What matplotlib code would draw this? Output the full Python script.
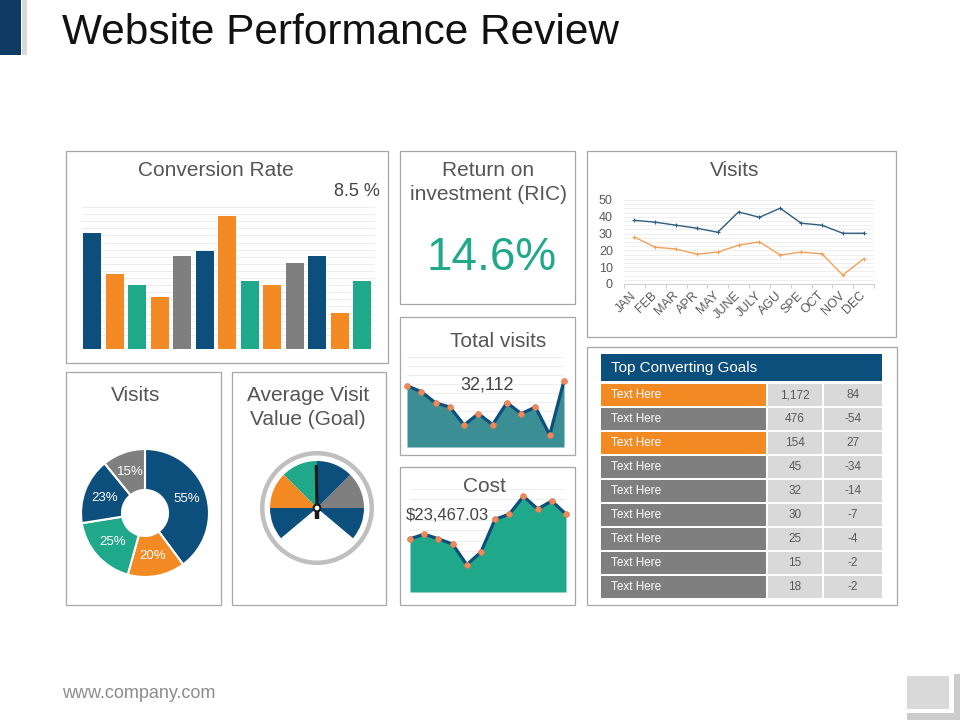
import matplotlib
matplotlib.use('Agg')
import matplotlib.pyplot as plt
from matplotlib.patches import Rectangle, Wedge, Circle
import numpy as np

plt.rcParams['font.family'] = ['Liberation Sans', 'DejaVu Sans']

# ---------------- data ----------------
conv_values = [16.3, 10.5, 9.0, 7.3, 13.1, 13.8, 18.8, 9.6, 9.0, 12.1, 13.1, 5.1, 9.6]
conv_series = ['b', 'o', 't', 'o', 'g', 'b', 'o', 't', 'o', 'g', 'b', 'o', 't']
conv_label = '8.5 %'

roi_label = '14.6%'

months = ['JAN', 'FEB', 'MAR', 'APR', 'MAY', 'JUNE', 'JULY', 'AGU', 'SPE', 'OCT', 'NOV', 'DEC']
visits_a = [37.9, 36.8, 35.0, 33.2, 30.8, 42.9, 39.7, 45.1, 36.2, 35.0, 30.2, 30.2]
visits_b = [27.9, 21.9, 20.8, 17.8, 19.0, 23.1, 25.1, 17.2, 19.0, 18.0, 5.3, 15.0]

total_visits = [6.8, 6.15, 4.9, 4.44, 2.44, 3.7, 2.48, 4.93, 3.7, 4.44, 1.33, 7.37]
total_visits_label = '32,112'

cost_values = [5.16, 5.61, 5.16, 4.65, 2.65, 3.87, 7.06, 7.55, 9.29, 8.06, 8.84, 7.55]
cost_label = '$23,467.03'

donut_values = [55, 20, 25, 23, 15]
donut_labels = ['55%', '20%', '25%', '23%', '15%']
donut_series = ['b', 'o', 't', 'b', 'g']

gauge_spans = [40, 45, 45, 45, 45, 40]
gauge_series = ['b', 'g', 'b', 't', 'o', 'b']
needle_angle = 91

goal_names = ['Text Here'] * 9
goal_values = ['1,172', '476', '154', '45', '32', '30', '25', '15', '18']
goal_changes = ['84', '-54', '27', '-34', '-14', '-7', '-4', '-2', '-2']
goal_highlight = [True, False, True, False, False, False, False, False, False]

# ---------------- style ----------------
BLUE = '#0D4F7C'
ORANGE = '#F38A24'
TEAL = '#20A88A'
GREY = '#7F7F7F'
PAL = {'b': BLUE, 'o': ORANGE, 't': TEAL, 'g': GREY}
TXT = '#555555'
BORDER = '#A6A6A6'

W, H = 960, 720
fig = plt.figure(figsize=(9.6, 7.2), dpi=100)


def px_axes(x0, y0, x1, y1):
    ax = fig.add_axes([x0 / W, 1 - y1 / H, (x1 - x0) / W, (y1 - y0) / H])
    ax.set_facecolor('none')
    return ax


def overlay():
    ax = px_axes(0, 0, W, H)
    ax.set_xlim(0, W)
    ax.set_ylim(H, 0)
    ax.axis('off')
    return ax


def clean(ax):
    ax.tick_params(left=False, bottom=False, labelleft=False, labelbottom=False)
    for s in ax.spines.values():
        s.set_visible(False)


bg = overlay()

# header decoration
bg.add_patch(Rectangle((0, 0), 21, 55, color='#0E3A63', lw=0))
bg.add_patch(Rectangle((22, 0), 5, 55, color='#D9D9D9', lw=0))

# footer decoration
bg.add_patch(Rectangle((907, 676), 42, 33, color='#D9D9D9', lw=0))
bg.add_patch(Rectangle((954, 674), 6, 46, color='#CCCCCC', lw=0))
bg.add_patch(Rectangle((907, 713), 53, 7, color='#CCCCCC', lw=0))

# panels
panels = [(66, 151, 388, 363), (400, 151, 575, 304), (587, 151, 896, 337),
          (400, 317, 575, 455), (400, 467, 575, 605), (587, 347, 897, 605),
          (66, 372, 221, 605), (232, 372, 386, 605)]
for x0, y0, x1, y1 in panels:
    bg.add_patch(Rectangle((x0, y0), x1 - x0, y1 - y0, fill=False, ec=BORDER, lw=0.9))

# ---------------- conversion rate bars ----------------
ax = px_axes(82, 207, 375, 349)
xb = np.arange(len(conv_values))
ax.bar(xb, conv_values, width=0.81, color=[PAL[s] for s in conv_series], zorder=2)
ax.set_xlim(-0.45, 12.57)
ax.set_ylim(0, 20)
ax.set_yticks(np.arange(0, 21, 1))
ax.grid(axis='y', color='#EDEDED', lw=0.8)
ax.set_axisbelow(True)
clean(ax)

# ---------------- visits line chart ----------------
ax = px_axes(624, 200, 874, 284)
xm = np.arange(len(months))
ax.plot(xm, visits_a, color='#2D5E80', lw=1.0, marker='+', ms=3, mew=0.8, zorder=3)
ax.plot(xm, visits_b, color='#F2A15A', lw=1.0, marker='+', ms=3, mew=0.8, zorder=3)
ax.set_xlim(-0.5, 11.5)
ax.set_ylim(0, 50)
ax.set_yticks(range(0, 51, 10))
ax.set_yticks(np.arange(0, 50.1, 2.5), minor=True)
ax.grid(axis='y', which='both', color='#EEEEEE', lw=0.7)
ax.set_axisbelow(True)
ax.set_xticks(xm)
ax.set_xticklabels(months, rotation=45, ha='right', va='center', rotation_mode='anchor',
                   fontsize=9, color='#595959')
ax.set_xticks(np.arange(-0.5, 12, 1), minor=True)
ax.tick_params(axis='x', which='major', length=0, pad=7)
ax.tick_params(axis='x', which='minor', length=3, color='#D0D0D0', width=0.8)
ax.tick_params(axis='y', which='both', length=0, labelsize=9, labelcolor='#595959', pad=8)
for k, s in ax.spines.items():
    s.set_visible(k == 'bottom')
ax.spines['bottom'].set_color('#D0D0D0')
ax.spines['bottom'].set_linewidth(0.8)


# ---------------- area charts ----------------
def area(ax, vals, fillc):
    xs = np.arange(len(vals))
    ax.fill_between(xs, vals, color=fillc, lw=0, zorder=2)
    ax.plot(xs, vals, color=BLUE, lw=2.3, zorder=3, solid_joinstyle='round', clip_on=False)
    ax.plot(xs, vals, 'o', color='#EE8A5A', ms=4.2, mec='#E07A4A', mew=0.5, zorder=4, clip_on=False)
    ax.set_xlim(0, len(vals) - 1)
    ax.set_ylim(0, 10)
    ax.set_yticks(np.arange(0, 11, 1))
    ax.grid(axis='y', color='#EEEEEE', lw=0.8)
    ax.set_axisbelow(True)
    clean(ax)


ax = px_axes(407, 357, 564, 447)
area(ax, total_visits, '#3A8E94')

ax = px_axes(410, 489, 566, 592)
area(ax, cost_values, TEAL)

# ---------------- donut ----------------
ax = px_axes(75, 443, 215, 583)
wedges, _ = ax.pie(donut_values, colors=[PAL[s] for s in donut_series], startangle=90,
                   counterclock=False, radius=64 / 70,
                   wedgeprops=dict(width=41 / 70, edgecolor='white', linewidth=1.5))
for w, lab in zip(wedges, donut_labels):
    ang = np.deg2rad((w.theta1 + w.theta2) / 2)
    r = 43.5 / 70
    ax.text(r * np.cos(ang), r * np.sin(ang), lab, color='white', fontsize=9.5,
            ha='center', va='center')
ax.set_xlim(-1, 1)
ax.set_ylim(-1, 1)
ax.set_aspect('equal')

# ---------------- gauge ----------------
ax = px_axes(252, 443, 382, 573)
ax.add_patch(Wedge((0, 0), 57, 0, 360, width=4.5, color='#BFBFBF', lw=0))
gap = 360 - sum(gauge_spans)
ax.pie(gauge_spans + [gap], colors=[PAL[s] for s in gauge_series] + [(0, 0, 0, 0)],
       startangle=-40, counterclock=True, radius=47, center=(0, 0),
       wedgeprops=dict(linewidth=0))
na = np.deg2rad(needle_angle)
ax.plot([0, 43 * np.cos(na)], [0, 43 * np.sin(na)], color='#1A1A1A', lw=2.2,
        solid_capstyle='butt', zorder=5)
ax.plot([0, 0], [0, -10.5], color='#1A1A1A', lw=3.2, solid_capstyle='butt', zorder=5)
ax.add_patch(Circle((0, 0), 3.4, fc='white', ec='#1A1A1A', lw=1.5, zorder=6))
ax.set_xlim(-65, 65)
ax.set_ylim(-65, 65)
ax.set_aspect('equal')
ax.axis('off')

# ---------------- top overlay: table + all text ----------------
top = overlay()

top.text(62, 44, 'Website Performance Review', fontsize=30.5, color='#111111', va='baseline')
top.text(62, 694, 'www.company.com', fontsize=13, color='#8C8C8C', va='center')

top.text(216, 176, 'Conversion Rate', fontsize=15, color=TXT, ha='center', va='baseline')
top.text(380, 196, conv_label, fontsize=13, color='#444444', ha='right', va='baseline')
top.text(488, 176, 'Return on', fontsize=15, color=TXT, ha='center', va='baseline')
top.text(488, 200, 'investment (RIC)', fontsize=15, color=TXT, ha='center', va='baseline')
top.text(492, 270, roi_label, fontsize=33, color=TEAL, ha='center', va='baseline')
top.text(735, 176, 'Visits', fontsize=15, color=TXT, ha='center', va='baseline')
top.text(498, 347, 'Total visits', fontsize=15, color=TXT, ha='center', va='baseline')
top.text(487, 389, total_visits_label, fontsize=13, color='#444444', ha='center', va='baseline')
top.text(484, 492, 'Cost', fontsize=15, color=TXT, ha='center', va='baseline')
top.text(406, 520, cost_label, fontsize=12, color='#444444', ha='left', va='baseline')
top.text(136, 401, 'Visits', fontsize=15, color=TXT, ha='center', va='baseline')
top.text(308, 401, 'Average Visit', fontsize=15, color=TXT, ha='center', va='baseline')
top.text(308, 425, 'Value (Goal)', fontsize=15, color=TXT, ha='center', va='baseline')

top.add_patch(Rectangle((601, 354), 281, 27, color=BLUE, lw=0))
top.text(611, 368, 'Top Converting Goals', color='white', fontsize=11, va='center')
top0, pitch, rh = 384, 24, 22
for i, (nm, v, c, hl) in enumerate(zip(goal_names, goal_values, goal_changes, goal_highlight)):
    y = top0 + i * pitch
    top.add_patch(Rectangle((601, y), 165, rh, color=ORANGE if hl else GREY, lw=0))
    top.add_patch(Rectangle((768, y), 54, rh, color='#D9D9D9', lw=0))
    top.add_patch(Rectangle((824, y), 58, rh, color='#D9D9D9', lw=0))
    top.text(611, y + rh / 2 + 0.5, nm, color='white', fontsize=8.5, va='center')
    top.text(795, y + rh / 2 + 0.5, v, color='#595959', fontsize=8.5, va='center', ha='center')
    top.text(853, y + rh / 2 + 0.5, c, color='#595959', fontsize=8.5, va='center', ha='center')

fig.savefig('out.png', dpi=100)
